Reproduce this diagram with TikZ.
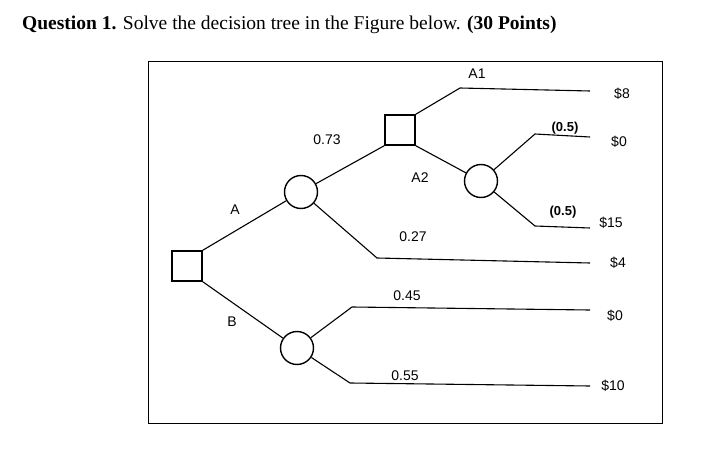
\documentclass[tikz,border=0pt]{standalone}
\usepackage{fontspec}
\setmainfont{Liberation Serif}
\newfontfamily\lab{Liberation Sans}
\begin{document}
\begin{tikzpicture}[x=1pt,y=-1pt,
  dsq/.style={draw,line width=1.4pt,minimum size=30pt,inner sep=0pt},
  chc/.style={draw,line width=1.4pt,circle,minimum size=33pt,inner sep=0pt},
  br/.style={line width=1.1pt},
  lb/.style={font=\lab\fontsize{14}{16}\selectfont,inner sep=1pt}]
\useasboundingbox (0,0) rectangle (716,452);
\node[anchor=west,font=\fontsize{19.5}{22}\selectfont,inner sep=0pt] (title) at (22,25) {\textbf{Question 1.} Solve the decision tree in the Figure below. \textbf{(30 Points)}};
\draw[line width=1pt] (148,62) rectangle (662,423);
\node[dsq] (root) at (187,266) {};
\node[chc] (ca) at (301,192) {};
\node[chc] (cb) at (297,348) {};
\node[dsq] (dec) at (400,130) {};
\node[chc] (cc) at (481,181) {};
\coordinate (a1k) at (460,88); \coordinate (a1e) at (590,91);
\coordinate (c0k) at (535,134); \coordinate (c0e) at (590,137);
\coordinate (c15k) at (535,226); \coordinate (c15e) at (590,228);
\coordinate (a27k) at (377,258); \coordinate (a27e) at (590,263);
\coordinate (b45k) at (352,307); \coordinate (b45e) at (590,310);
\coordinate (b55k) at (350,383); \coordinate (b55e) at (590,386);
\draw[br] (root.north east) -- (ca);
\draw[br] (root.south east) -- (cb);
\draw[br] (ca) -- (dec.south west);
\draw[br] (ca) -- (a27k) -- (a27e);
\draw[br] (dec.north east) -- (a1k) -- (a1e);
\draw[br] (dec.south east) -- (cc);
\draw[br] (cc) -- (c0k) -- (c0e);
\draw[br] (cc) -- (c15k) -- (c15e);
\draw[br] (cb) -- (b45k) -- (b45e);
\draw[br] (cb) -- (b55k) -- (b55e);
\node[lb] (la1) at (477,74) {A1};
\node[lb] (l73) at (327,140) {0.73};
\node[lb] (la2) at (420,178) {A2};
\node[lb] (la) at (235,210) {A};
\node[lb] (l27) at (413,237) {0.27};
\node[lb,font=\lab\bfseries\fontsize{13}{15}\selectfont] (p1) at (565,128) {(0.5)};
\node[lb,font=\lab\bfseries\fontsize{13}{15}\selectfont] (p2) at (563,212) {(0.5)};
\node[lb] (v8) at (622,94) {\$8};
\node[lb] (v0a) at (619,142) {\$0};
\node[lb] (v15) at (611,223) {\$15};
\node[lb] (v4) at (618,263) {\$4};
\node[lb] (l45) at (407,296) {0.45};
\node[lb] (lb) at (232,322) {B};
\node[lb] (v0b) at (615,316) {\$0};
\node[lb] (l55) at (405,376) {0.55};
\node[lb] (v10) at (613,386) {\$10};
\end{tikzpicture}
\end{document}
